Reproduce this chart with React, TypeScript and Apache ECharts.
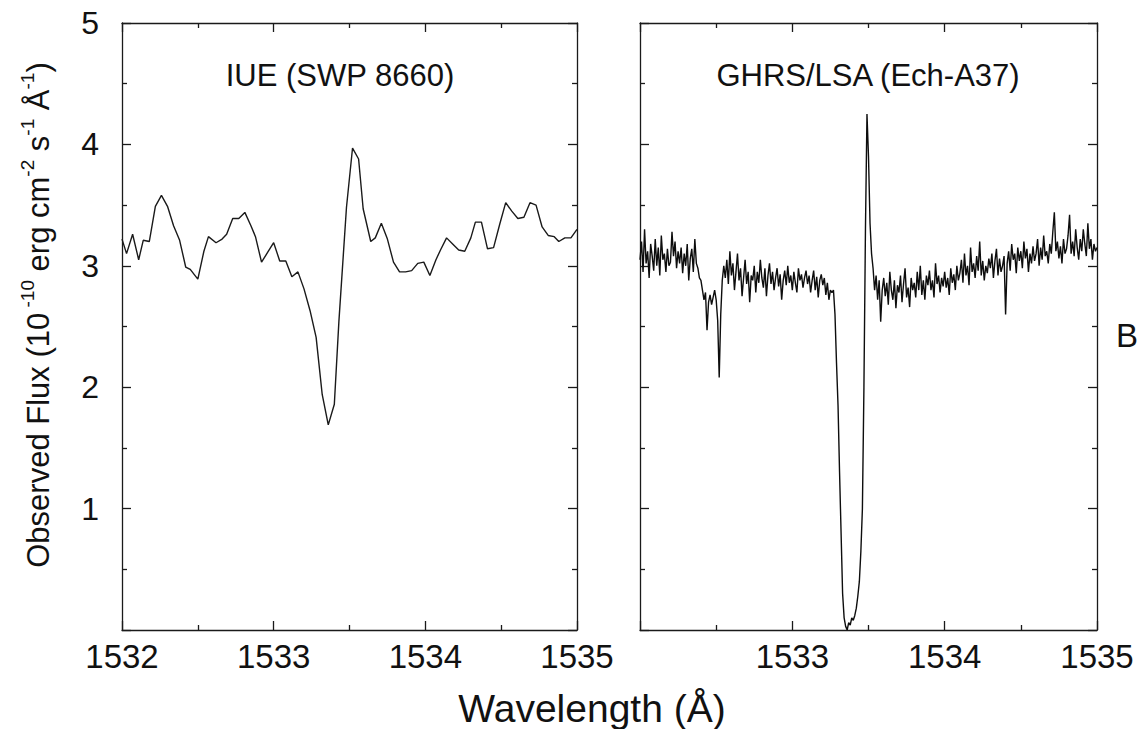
import React, { useEffect, useRef } from 'react';
import * as echarts from 'echarts';

const FONT = '"Liberation Sans", Arial, Helvetica, sans-serif';

// IUE (SWP 8660) spectrum
const iueWave = [
  1532.0, 1532.03, 1532.07, 1532.11, 1532.14, 1532.18, 1532.22, 1532.26, 1532.3, 1532.34,
  1532.38, 1532.42, 1532.45, 1532.5, 1532.54, 1532.57, 1532.62, 1532.66, 1532.69, 1532.73,
  1532.77, 1532.81, 1532.85, 1532.88, 1532.92, 1532.96, 1533.0, 1533.04, 1533.08, 1533.12,
  1533.16, 1533.2, 1533.24, 1533.28, 1533.32, 1533.36, 1533.4, 1533.43, 1533.48, 1533.52,
  1533.56, 1533.59, 1533.64, 1533.67, 1533.71, 1533.75, 1533.79, 1533.83, 1533.87, 1533.91,
  1533.95, 1533.99, 1534.03, 1534.07, 1534.1, 1534.14, 1534.18, 1534.22, 1534.26, 1534.3,
  1534.33, 1534.37, 1534.41, 1534.45, 1534.49, 1534.53, 1534.57, 1534.61, 1534.65, 1534.69,
  1534.73, 1534.77, 1534.81, 1534.85, 1534.88, 1534.92, 1534.96, 1535.0,
];
const iueFlux = [
  3.22, 3.10, 3.26, 3.05, 3.21, 3.20, 3.49, 3.58, 3.49, 3.33,
  3.21, 2.99, 2.97, 2.89, 3.12, 3.24, 3.19, 3.22, 3.26, 3.39,
  3.39, 3.44, 3.33, 3.24, 3.03, 3.11, 3.19, 3.04, 3.04, 2.91,
  2.95, 2.81, 2.63, 2.41, 1.94, 1.69, 1.86, 2.54, 3.48, 3.97,
  3.88, 3.47, 3.20, 3.23, 3.35, 3.22, 3.03, 2.95, 2.95, 2.96,
  3.02, 3.03, 2.92, 3.05, 3.13, 3.23, 3.18, 3.13, 3.12, 3.23,
  3.36, 3.36, 3.14, 3.15, 3.34, 3.52, 3.45, 3.39, 3.40, 3.52,
  3.50, 3.32, 3.25, 3.24, 3.20, 3.23, 3.23, 3.30,
];

// GHRS/LSA (Ech-A37) spectrum, sampled every 0.01 A from 1532.00 A
const ghrsStart = 1532.0;
const ghrsStep = 0.01;
const ghrsFlux = [
  3.05, 3.20, 2.95, 3.30, 3.02, 3.12, 2.90, 3.18, 3.08, 2.96,
  3.22, 3.00, 3.15, 2.92, 3.25, 3.05, 3.10, 2.95, 3.14, 3.00,
  3.03, 3.28, 3.08, 3.20, 2.98, 3.12, 3.02, 3.15, 2.94, 3.10,
  3.00, 3.18, 2.88, 3.06, 3.14, 2.95, 3.22, 3.02, 2.98, 2.90,
  2.88, 2.80, 2.72, 2.78, 2.47, 2.70, 2.76, 2.68, 2.74, 2.80,
  2.72, 2.55, 2.08, 2.60, 2.88, 3.00, 2.90, 3.05, 2.85, 3.12,
  2.92, 3.02, 2.80, 2.95, 3.10, 2.88, 2.98, 2.75, 2.90, 3.05,
  2.85, 2.95, 2.70, 2.92, 2.88, 3.00, 2.78, 2.95, 2.86, 3.05,
  2.90, 2.82, 2.98, 2.75, 2.92, 3.02, 2.85, 2.95, 2.80, 2.90,
  2.98, 2.83, 2.93, 2.72, 2.88, 2.96, 2.84, 3.00, 2.86, 2.92,
  2.80, 2.95, 2.86, 2.78, 2.98, 2.88, 2.93, 2.82, 2.90, 2.96,
  2.85, 2.92, 2.78, 2.88, 2.96, 2.80, 2.91, 2.74, 2.88, 2.93,
  2.84, 2.90, 2.76, 2.86, 2.72, 2.80, 2.78, 2.80, 2.60, 2.20,
  1.85, 1.30, 0.80, 0.30, 0.10, 0.03, 0.00, 0.06, 0.04, 0.10,
  0.08, 0.12, 0.18, 0.28, 0.40, 0.65, 1.00, 2.00, 3.30, 4.25,
  3.90, 3.35, 3.10, 2.98, 2.80, 2.92, 2.72, 2.88, 2.54, 2.80,
  2.90, 2.75, 2.86, 2.68, 2.95, 2.80, 2.72, 2.88, 2.65, 2.84,
  2.78, 2.92, 2.70, 2.85, 2.98, 2.74, 2.82, 2.66, 2.90, 2.80,
  2.86, 2.74, 2.95, 2.80, 3.00, 2.76, 2.88, 2.72, 2.92, 2.84,
  2.96, 2.80, 2.88, 2.74, 3.02, 2.85, 2.92, 2.78, 2.90, 2.83,
  2.95, 2.82, 2.90, 2.76, 2.98, 2.86, 2.93, 2.80, 3.00, 2.88,
  2.94, 3.05, 2.86, 3.10, 2.92, 3.00, 2.84, 3.15, 2.95, 3.02,
  2.90, 3.08, 2.96, 3.20, 2.92, 3.04, 2.88, 3.00, 2.94, 3.06,
  2.98, 3.10, 2.90, 3.04, 3.14, 2.92, 3.06, 2.95, 3.00, 3.08,
  2.60, 3.02, 3.12, 2.96, 3.18, 3.05, 3.10, 2.94, 3.15, 3.04,
  3.12, 2.98, 3.20, 3.06, 3.14, 2.95, 3.10, 3.02, 3.16, 3.04,
  3.10, 3.22, 3.00, 3.15, 3.05, 3.25, 3.08, 3.12, 3.02, 3.18,
  3.10, 3.28, 3.44, 3.12, 3.20, 3.06, 3.16, 3.02, 3.22, 3.10,
  3.14, 3.25, 3.42, 3.10, 3.20, 3.08, 3.30, 3.15, 3.05, 3.22,
  3.12, 3.30, 3.18, 3.08, 3.35, 3.14, 3.22, 3.05, 3.18, 3.12,
  3.15,
];

const panelTitles = ['IUE (SWP 8660)', 'GHRS/LSA (Ech-A37)'];
const xAxisTitle = 'Wavelength (Å)';
const panelLetter = 'B';
const xMin = 1532;
const xMax = 1535;
const yMin = 0;
const yMax = 5;

export default function App() {
  const ref = useRef<HTMLDivElement>(null);

  useEffect(() => {
    if (!ref.current) return;
    const chart = echarts.init(ref.current, null, { renderer: 'svg' });
    const ink = '#1a1a1a';
    const lineStyle = { color: ink, width: 1.3 };

    const makeX = (gridIndex: number, position: string, showLabels: boolean, hideFirst: boolean) => ({
      type: 'value',
      gridIndex,
      position,
      min: xMin,
      max: xMax,
      interval: 1,
      axisLine: { show: true, onZero: false, lineStyle },
      axisTick: { show: true, inside: true, length: 9, lineStyle },
      minorTick: { show: true, splitNumber: 2, length: 5, lineStyle },
      splitLine: { show: false },
      minorSplitLine: { show: false },
      axisLabel: showLabels
        ? {
            show: true,
            fontSize: 33,
            fontFamily: FONT,
            color: '#111',
            margin: 10,
            formatter: (v: number) => (hideFirst && v === xMin ? '' : String(v)),
          }
        : { show: false },
    });

    const makeY = (gridIndex: number, position: string, showLabels: boolean) => ({
      type: 'value',
      gridIndex,
      position,
      min: yMin,
      max: yMax,
      interval: 1,
      axisLine: { show: true, onZero: false, lineStyle },
      axisTick: { show: true, inside: true, length: 9, lineStyle },
      minorTick: { show: true, splitNumber: 2, length: 5, lineStyle },
      splitLine: { show: false },
      minorSplitLine: { show: false },
      axisLabel: showLabels
        ? {
            show: true,
            fontSize: 32,
            fontFamily: FONT,
            color: '#111',
            margin: 23,
            formatter: (v: number) => (v === yMin ? '' : String(v)),
          }
        : { show: false },
    });

    const iueData = iueWave.map((w, i) => [w, iueFlux[i]]);
    const ghrsData = ghrsFlux.map((f, i) => [ghrsStart + i * ghrsStep, f]);

    chart.setOption({
      animation: false,
      backgroundColor: '#ffffff',
      grid: [
        { left: 122, top: 23, width: 455, height: 607 },
        { left: 640, top: 23, width: 457, height: 607 },
      ],
      xAxis: [
        makeX(0, 'bottom', true, false),
        makeX(0, 'top', false, false),
        makeX(1, 'bottom', true, true),
        makeX(1, 'top', false, false),
      ],
      yAxis: [
        makeY(0, 'left', true),
        makeY(0, 'right', false),
        makeY(1, 'left', false),
        makeY(1, 'right', false),
      ],
      series: [
        {
          type: 'line',
          xAxisIndex: 0,
          yAxisIndex: 0,
          data: iueData,
          showSymbol: false,
          symbol: 'none',
          lineStyle: { color: '#1a1a1a', width: 1.4 },
        },
        {
          type: 'line',
          xAxisIndex: 2,
          yAxisIndex: 2,
          data: ghrsData,
          showSymbol: false,
          symbol: 'none',
          lineStyle: { color: '#0d0d0d', width: 1.4 },
        },
      ],
      graphic: [
        {
          type: 'text',
          x: 340,
          y: 75,
          style: { text: panelTitles[0], fontSize: 31, fontFamily: FONT, fill: '#111', align: 'center', verticalAlign: 'middle' },
        },
        {
          type: 'text',
          x: 868,
          y: 75,
          style: { text: panelTitles[1], fontSize: 31, fontFamily: FONT, fill: '#111', align: 'center', verticalAlign: 'middle' },
        },
        {
          type: 'text',
          x: 592,
          y: 708,
          style: { text: xAxisTitle, fontSize: 39, fontFamily: FONT, fill: '#111', align: 'center', verticalAlign: 'middle' },
        },
        {
          type: 'text',
          x: 1127,
          y: 335,
          style: { text: panelLetter, fontSize: 33, fontFamily: FONT, fill: '#111', align: 'center', verticalAlign: 'middle' },
        },
        {
          type: 'text',
          x: 36,
          y: 315,
          rotation: Math.PI / 2,
          style: {
            text: '{m|Observed Flux (10}{s| -10}{m| erg cm}{s|-2}{m| s}{s|-1}{m| Å}{s|-1}{m|)}',
            align: 'center',
            verticalAlign: 'middle',
            fill: '#111',
            rich: {
              m: { fontSize: 31, fontFamily: FONT, fill: '#111', lineHeight: 36, verticalAlign: 'bottom' },
              s: { fontSize: 19, fontFamily: FONT, fill: '#111', lineHeight: 36, verticalAlign: 'top' },
            },
          },
        },
      ],
    });

    return () => chart.dispose();
  }, []);

  return (
    <div
      ref={ref}
      style={{ position: 'fixed', left: 0, top: 0, width: 1138, height: 729, background: '#fff' }}
    />
  );
}
